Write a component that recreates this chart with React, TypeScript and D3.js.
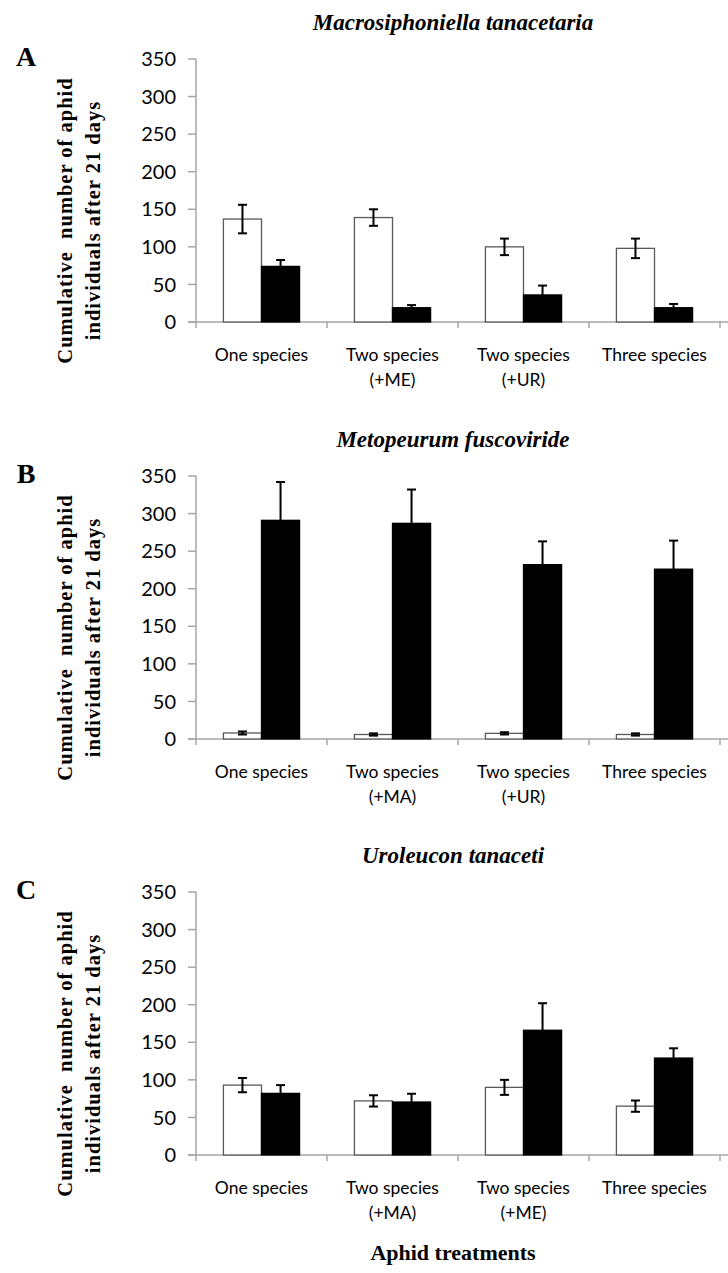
import React from "react";
import * as d3 from "d3";

// Treatments on the x axis (second line in brackets)
const categoriesA = ["One species", "Two species|(+ME)", "Two species|(+UR)", "Three species"];
const categoriesB = ["One species", "Two species|(+MA)", "Two species|(+UR)", "Three species"];
const categoriesC = ["One species", "Two species|(+MA)", "Two species|(+ME)", "Three species"];

// Means and standard errors: open (white) bars and filled (black) bars
const whiteMeansA = [137, 139, 100, 98];
const whiteErrA = [19, 11, 11, 13];
const blackMeansA = [74, 19, 36, 19];
const blackErrA = [8.5, 3.5, 12.5, 5];

const whiteMeansB = [8, 6, 7.5, 6];
const whiteErrB = [2, 1.5, 1.5, 1.5];
const blackMeansB = [291, 287, 232, 226];
const blackErrB = [51, 45, 31, 38];

const whiteMeansC = [93, 72, 90, 65];
const whiteErrC = [9.5, 7.5, 10, 7.5];
const blackMeansC = [82, 70.5, 166, 129];
const blackErrC = [11, 11, 36, 13];

const yTicks = [0, 50, 100, 150, 200, 250, 300, 350];
const seriesKeys = ["white", "black"];

const titles = ["Macrosiphoniella tanacetaria", "Metopeurum fuscoviride", "Uroleucon tanaceti"];
const panelLetters = ["A", "B", "C"];

const W = 728;
const H = 1273;
const axisX = 196;
const axisRight = 720;
const plotH = 263;

const serif = "'Liberation Serif', 'Times New Roman', serif";
const sans = "Lato, 'Open Sans', sans-serif";

type PanelProps = {
  top: number;
  letter: string;
  title: string;
  categories: string[];
  whiteMeans: number[];
  whiteErr: number[];
  blackMeans: number[];
  blackErr: number[];
};

function Panel({ top, letter, title, categories, whiteMeans, whiteErr, blackMeans, blackErr }: PanelProps) {
  const y = d3.scaleLinear().domain([0, 350]).range([top + plotH, top]);
  const x0 = d3.scaleBand<string>().domain(categories).range([axisX, axisRight]).paddingInner(0).paddingOuter(0);
  const x1 = d3.scaleBand<string>().domain(seriesKeys).range([0, x0.bandwidth()]).paddingInner(0).paddingOuter(0.72);
  const base = y(0);

  const rows = categories.map((c, i) => ({
    c,
    values: [
      { key: "white", mean: whiteMeans[i], err: whiteErr[i] },
      { key: "black", mean: blackMeans[i], err: blackErr[i] },
    ],
  }));

  const boundaries = categories.map((c) => x0(c)!).concat([axisRight]);

  return (
    <g>
      <text x={453} y={top - 29} textAnchor="middle" fontFamily={serif} fontWeight="bold" fontStyle="italic" fontSize={23}>
        {title}
      </text>
      <text x={26} y={top + 7} textAnchor="middle" fontFamily={serif} fontWeight="bold" fontSize={28}>
        {letter}
      </text>

      {/* y axis title */}
      <g transform={`translate(0, ${top + plotH / 2 + 30}) rotate(-90)`}>
        <text x={0} y={72} textAnchor="middle" fontFamily={serif} fontWeight="bold" fontSize={20.5} letterSpacing={1} xmlSpace="preserve">
          {"Cumulative  number of aphid"}
        </text>
        <text x={0} y={100} textAnchor="middle" fontFamily={serif} fontWeight="bold" fontSize={20.5} letterSpacing={1}>
          individuals after 21 days
        </text>
      </g>

      {/* y axis */}
      <line x1={axisX} x2={axisX} y1={top} y2={base} stroke="#a6a6a6" strokeWidth={1.5} />
      {yTicks.map((t) => (
        <g key={t}>
          <line x1={axisX - 8} x2={axisX} y1={y(t)} y2={y(t)} stroke="#a6a6a6" strokeWidth={1.5} />
          <text x={176} y={y(t)} dy="0.36em" textAnchor="end" fontFamily={sans} fontSize={20} fill="#000">
            {t}
          </text>
        </g>
      ))}

      {/* x axis */}
      <line x1={axisX - 8} x2={axisRight + 8} y1={base} y2={base} stroke="#a6a6a6" strokeWidth={1.5} />
      {boundaries.map((bx, i) => (
        <line key={i} x1={bx} x2={bx} y1={base} y2={base + 6} stroke="#a6a6a6" strokeWidth={1.5} />
      ))}

      {/* bars and error bars */}
      {rows.map((r) => (
        <g key={r.c} transform={`translate(${x0(r.c)}, 0)`}>
          {r.values.map((v) => {
            const bx = x1(v.key)!;
            const bw = x1.bandwidth();
            const cx = bx + bw / 2;
            const isBlack = v.key === "black";
            return (
              <g key={v.key}>
                <rect
                  x={bx}
                  y={y(v.mean)}
                  width={bw}
                  height={base - y(v.mean)}
                  fill={isBlack ? "#000" : "#fff"}
                  stroke={isBlack ? "#000" : "#595959"}
                  strokeWidth={1.3}
                />
                <line x1={cx} x2={cx} y1={y(v.mean + v.err)} y2={y(v.mean - v.err)} stroke="#000" strokeWidth={2} />
                <line x1={cx - 4.5} x2={cx + 4.5} y1={y(v.mean + v.err)} y2={y(v.mean + v.err)} stroke="#000" strokeWidth={2} />
                <line x1={cx - 4.5} x2={cx + 4.5} y1={y(v.mean - v.err)} y2={y(v.mean - v.err)} stroke="#000" strokeWidth={2} />
              </g>
            );
          })}
          {r.c.split("|").map((line, li) => (
            <text
              key={li}
              x={x0.bandwidth() / 2}
              y={base + 33 + li * 25}
              dy="0.36em"
              textAnchor="middle"
              fontFamily={sans}
              fontSize={17.5}
              fill="#000"
            >
              {line}
            </text>
          ))}
        </g>
      ))}
    </g>
  );
}

export default function App() {
  const tops = [59, 476, 892];
  const data = [
    { categories: categoriesA, wm: whiteMeansA, we: whiteErrA, bm: blackMeansA, be: blackErrA },
    { categories: categoriesB, wm: whiteMeansB, we: whiteErrB, bm: blackMeansB, be: blackErrB },
    { categories: categoriesC, wm: whiteMeansC, we: whiteErrC, bm: blackMeansC, be: blackErrC },
  ];
  return (
    <svg width={W} height={H} style={{ position: "absolute", left: 0, top: 0, background: "#fff" }}>
      <rect width={W} height={H} fill="#fff" />
      {data.map((d, i) => (
        <Panel
          key={i}
          top={tops[i]}
          letter={panelLetters[i]}
          title={titles[i]}
          categories={d.categories}
          whiteMeans={d.wm}
          whiteErr={d.we}
          blackMeans={d.bm}
          blackErr={d.be}
        />
      ))}
      <text x={453} y={1260} textAnchor="middle" fontFamily={serif} fontWeight="bold" fontSize={22}>
        Aphid treatments
      </text>
    </svg>
  );
}
